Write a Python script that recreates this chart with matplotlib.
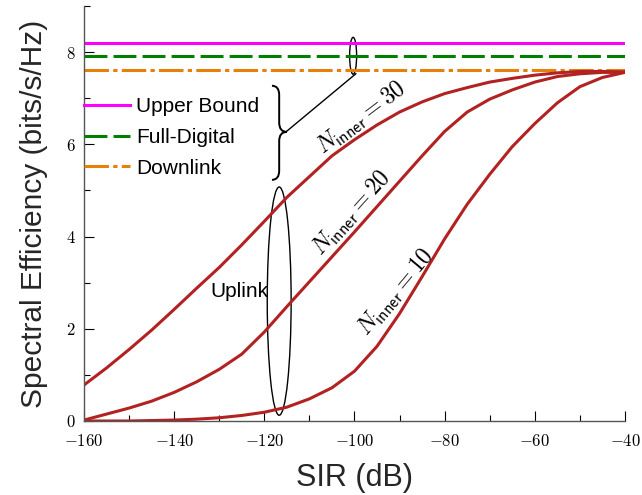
import numpy as np
import matplotlib
matplotlib.use('Agg')
import matplotlib.pyplot as plt
from matplotlib.patches import Ellipse, PathPatch
from matplotlib.path import Path
from matplotlib.ticker import MultipleLocator

plt.rcParams['mathtext.fontset'] = 'cm'
plt.rcParams['font.family'] = ['Liberation Sans', 'DejaVu Sans']

# SIR axis (dB), curves sampled every 5 dB
sir_db = [-160, -155, -150, -145, -140, -135, -130, -125, -120, -115, -110, -105, -100,
          -95, -90, -85, -80, -75, -70, -65, -60, -55, -50, -45, -40]

# uplink spectral efficiency for the three N_inner values
uplink_n30 = [0.78, 1.15, 1.55, 1.97, 2.42, 2.88, 3.33, 3.82, 4.33, 4.85, 5.30, 5.75, 6.10,
              6.42, 6.70, 6.92, 7.10, 7.23, 7.35, 7.43, 7.50, 7.55, 7.58, 7.58, 7.57]
uplink_n20 = [0.02, 0.15, 0.28, 0.43, 0.62, 0.85, 1.12, 1.45, 1.93, 2.48, 3.02, 3.56, 4.10,
              4.65, 5.20, 5.75, 6.28, 6.70, 6.98, 7.18, 7.35, 7.47, 7.53, 7.56, 7.56]
uplink_n10 = [0.00, 0.00, 0.00, 0.01, 0.02, 0.04, 0.07, 0.12, 0.19, 0.30, 0.48, 0.72, 1.08,
              1.62, 2.33, 3.13, 3.95, 4.70, 5.35, 5.95, 6.45, 6.90, 7.25, 7.45, 7.56]

# constant reference levels
upper_bound = 8.2
full_digital = 7.92
downlink = 7.61

x_ticks = [-160, -140, -120, -100, -80, -60, -40]
y_ticks = [0, 2, 4, 6, 8]

fig = plt.figure(figsize=(6.42, 4.95), dpi=100)
ax = fig.add_axes([0.1308, 0.1495, 0.8427, 0.8384])

x_rng = [sir_db[0], sir_db[-1]]
ax.plot(x_rng, [upper_bound] * 2, color='#FF00FF', lw=2.2, label='Upper Bound')
ax.plot(x_rng, [full_digital] * 2, color='#008000', lw=2.2, dashes=(7.5, 2.0),
        label='Full-Digital')
ax.plot(x_rng, [downlink] * 2, color='#E6800A', lw=2.2, dashes=(8, 1.4, 1.4, 1.4),
        label='Downlink')

for ys in (uplink_n30, uplink_n20, uplink_n10):
    ax.plot(sir_db, ys, color='#B22222', lw=2.2)

ax.set_xlim(-160, -40)
ax.set_ylim(0, 9)

ax.set_xticks(x_ticks)
ax.set_xticklabels([r'$%d$' % v for v in x_ticks])
ax.set_yticks(y_ticks)
ax.set_yticklabels([r'$%d$' % v for v in y_ticks])
ax.xaxis.set_minor_locator(MultipleLocator(10))
ax.yaxis.set_minor_locator(MultipleLocator(1))
ax.tick_params(which='both', direction='in', labelsize=12, color='black', width=0.8)
ax.tick_params(which='major', length=7)
ax.tick_params(which='minor', length=4)
ax.tick_params(axis='x', pad=9)
ax.tick_params(axis='y', pad=6)

for s in ('top', 'right'):
    ax.spines[s].set_visible(False)
for s in ('left', 'bottom'):
    ax.spines[s].set_color('#555555')
    ax.spines[s].set_linewidth(1.0)

ax.set_xlabel('SIR (dB)', fontsize=22, color='#262626', labelpad=10)
ax.set_ylabel('Spectral Efficiency (bits/s/Hz)', fontsize=21.5, color='#262626', labelpad=13)

leg = ax.legend(loc='upper left', bbox_to_anchor=(0.0, 0.78), frameon=False, fontsize=15,
                handlelength=2.2, handletextpad=0.3, labelspacing=0.56, borderaxespad=0,
                borderpad=0)

# brace grouping the legend entries
x0, xm, xt = -118.3, -116.7, -115.0
ytop, ymid, ybot = 7.27, 6.27, 5.23
verts = [(x0, ytop), (xm, ytop), (xm, ytop - 0.2), (xm, ymid + 0.2),
         (xm, ymid), (xt, ymid), (xm, ymid), (xm, ymid - 0.2),
         (xm, ybot + 0.2), (xm, ybot), (x0, ybot)]
codes = [Path.MOVETO, Path.CURVE3, Path.CURVE3, Path.LINETO,
         Path.CURVE3, Path.CURVE3, Path.CURVE3, Path.CURVE3,
         Path.LINETO, Path.CURVE3, Path.CURVE3]
ax.add_patch(PathPatch(Path(verts, codes), fill=False, lw=1.4, color='black'))

# small ellipse around the three horizontal lines + connector
ax.add_patch(Ellipse((-100.3, 7.92), 1.55, 0.80, fill=False, lw=1.0, color='black'))
ax.plot([-115.2, -99.7], [6.27, 7.53], color='black', lw=1.0)

# ellipse around the uplink curves
ax.add_patch(Ellipse((-116.7, 2.6), 5.3, 4.95, fill=False, lw=1.0, color='black'))
ax.text(-125.6, 2.8, 'Uplink', fontsize=15, ha='center', va='center')

lbl = r'$N_{\mathsf{inner}} = %d$'
ax.text(-98.3, 6.57, lbl % 30, fontsize=17, rotation=37, ha='center', va='center',
        rotation_mode='anchor')
ax.text(-100.5, 4.51, lbl % 20, fontsize=17, rotation=48, ha='center', va='center',
        rotation_mode='anchor')
ax.text(-90.8, 2.78, lbl % 10, fontsize=17, rotation=50, ha='center', va='center',
        rotation_mode='anchor')

fig.savefig('out.png', dpi=100)
